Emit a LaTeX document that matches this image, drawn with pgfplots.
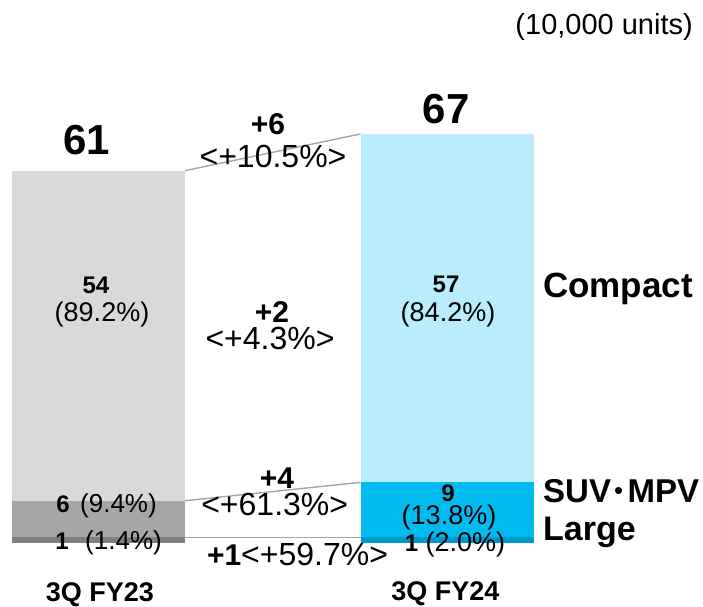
\documentclass[border=0pt]{standalone}
\usepackage{fontspec}
\setmainfont{Liberation Sans}
\newfontfamily\cjk{Noto Sans CJK JP}
\usepackage{pgfplots}
\pgfplotsset{compat=1.18}

\definecolor{cmpA}{RGB}{217,217,217}
\definecolor{suvA}{RGB}{166,166,166}
\definecolor{lrgA}{RGB}{128,128,128}
\definecolor{cmpB}{RGB}{185,236,252}
\definecolor{suvB}{RGB}{0,187,240}
\definecolor{lrgB}{RGB}{0,153,204}
\definecolor{linkgray}{RGB}{166,166,166}

\newcommand{\fs}[1]{\fontsize{#1bp}{#1bp}\selectfont}

\pgfplotsset{
  canvas/.style={
    scale only axis, width=703bp, height=607bp,
    xmin=0, xmax=703, ymin=-10.39, ymax=88.92,
    hide axis, clip=false,
  },
  stack/.style={canvas, ybar stacked, bar width=173bp},
}

\begin{document}
\begin{tikzpicture}
\useasboundingbox (0,0) rectangle (703bp,607bp);

% 3Q FY23: Large / SUV-MPV / Compact
\begin{axis}[stack]
\addplot[fill=lrgA, draw=none] coordinates {(98.5,1)};
\addplot[fill=suvA, draw=none] coordinates {(98.5,6)};
\addplot[fill=cmpA, draw=none] coordinates {(98.5,54)};
\end{axis}

% 3Q FY24: Large / SUV-MPV / Compact
\begin{axis}[stack]
\addplot[fill=lrgB, draw=none] coordinates {(447,1)};
\addplot[fill=suvB, draw=none] coordinates {(447,9)};
\addplot[fill=cmpB, draw=none] coordinates {(447,57)};
\end{axis}

\begin{axis}[canvas]
% links between segment tops
\addplot[draw=linkgray, line width=1.4bp, mark=none] coordinates {(185,61) (360.5,67)};
\addplot[draw=linkgray, line width=1.4bp, mark=none] coordinates {(185,7) (360.5,10)};
\addplot[draw=linkgray, line width=1.4bp, mark=none] coordinates {(185,1) (360.5,1)};

% unit
\node[anchor=base east, inner sep=0] at (axis cs:693,83.2) {\fs{29}(10,000 units)};

% totals
\node[anchor=base, inner sep=0] at (axis cs:87,63.68) {\fs{42}\bfseries 61};
\node[anchor=base, inner sep=0] at (axis cs:446,68.75) {\fs{42}\bfseries 67};

% left bar labels
\node[anchor=base, inner sep=0] at (axis cs:96,40.94) {\fs{24}\bfseries 54};
\node[anchor=base, inner sep=0] at (axis cs:102,36.29) {\fs{27}(89.2\%)};
\node[anchor=base, inner sep=0] at (axis cs:63,4.99) {\fs{24}\bfseries 6};
\node[anchor=base west, inner sep=0] at (axis cs:80,4.99) {\fs{26}(9.4\%)};
\node[anchor=base, inner sep=0] at (axis cs:62,-1.06) {\fs{24}\bfseries 1};
\node[anchor=base west, inner sep=0] at (axis cs:85,-1.06) {\fs{26}(1.4\%)};

% right bar labels
\node[anchor=base, inner sep=0] at (axis cs:446,40.99) {\fs{24}\bfseries 57};
\node[anchor=base, inner sep=0] at (axis cs:448,36.29) {\fs{27}(84.2\%)};
\node[anchor=base, inner sep=0] at (axis cs:448,6.8) {\fs{24}\bfseries 9};
\node[anchor=base, inner sep=0] at (axis cs:449,3.03) {\fs{27}(13.8\%)};
\node[anchor=base, inner sep=0] at (axis cs:455,-1.39) {\fs{27}{\fs{24}\bfseries 1} (2.0\%)};

% changes
\node[anchor=base, inner sep=0] at (axis cs:268,66.84) {\fs{30}\bfseries +6};
\node[anchor=base, inner sep=0] at (axis cs:273,61.44) {\fs{32}<+10.5\%>};
\node[anchor=base, inner sep=0] at (axis cs:272,36.08) {\fs{30}\bfseries +2};
\node[anchor=base, inner sep=0] at (axis cs:270,31.66) {\fs{32}<+4.3\%>};
\node[anchor=base, inner sep=0] at (axis cs:277,8.92) {\fs{30}\bfseries +4};
\node[anchor=base, inner sep=0] at (axis cs:274.7,4.66) {\fs{32}<+61.3\%>};
\node[anchor=base, inner sep=0] at (axis cs:297.5,-3.68) {\fs{32}{\fs{30}\bfseries +1}<+59.7\%>};

% segment names
\node[anchor=base west, inner sep=0] at (axis cs:543,40.17) {\fs{35}\bfseries Compact};
\node[anchor=base west, inner sep=0] at (axis cs:543,6.63) {\fs{33}\bfseries SUV\makebox[0.5em][c]{\raisebox{2bp}{\fs{25}\cjk ・}}MPV};
\node[anchor=base west, inner sep=0] at (axis cs:543,0.57) {\fs{34}\bfseries Large};

% periods
\node[anchor=base, inner sep=0] at (axis cs:100,-9.55) {\fs{27}\bfseries 3Q FY23};
\node[anchor=base, inner sep=0] at (axis cs:445.5,-9.3) {\fs{27}\bfseries 3Q FY24};
\end{axis}
\end{tikzpicture}
\end{document}
